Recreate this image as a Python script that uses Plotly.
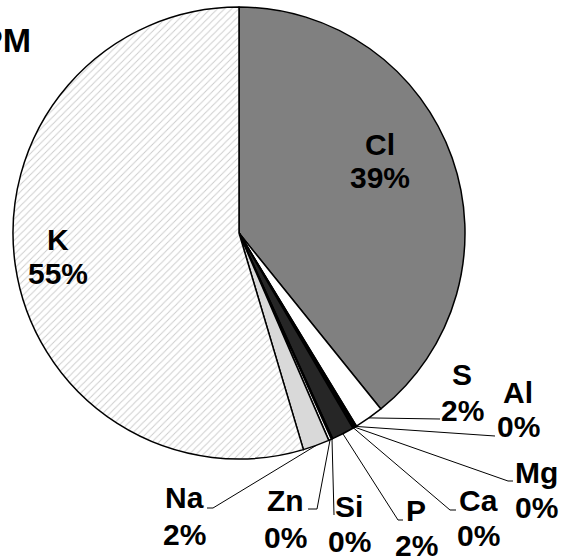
import math
import plotly.graph_objects as go

# ---- data ----
labels = ["Cl", "S", "Al", "Mg", "Ca", "P", "Si", "Zn", "Na", "K"]
values = [39.2, 2.1, 0.1, 0.1, 0.1, 1.6, 0.1, 0.2, 1.9, 54.6]
colors = ["#808080", "#ffffff", "#ffffff", "#ffffff", "#ffffff",
          "#262626", "#ffffff", "#ffffff", "#d9d9d9", "#ffffff"]
title_text = "PM"

W, H = 561, 560
CX, CY, R = 239, 233, 226


def px(x):
    return x / W


def py(y):
    return 1 - y / H


fig = go.Figure()
fig.add_trace(go.Pie(
    labels=labels,
    values=values,
    sort=False,
    direction="clockwise",
    rotation=0,
    textinfo="none",
    hoverinfo="skip",
    showlegend=False,
    domain=dict(x=[px(CX - R), px(CX + R)], y=[py(CY + R), py(CY - R)]),
    marker=dict(
        colors=colors,
        line=dict(color="black", width=1.5),
        pattern=dict(
            shape=["", "", "", "", "", "", "", "", "", "/"],
            fgcolor="#cccccc",
            bgcolor="#ffffff",
            size=5,
            solidity=0.18,
        ),
    ),
))

total = sum(values)
pcts = [f"{round(v / total * 100)}%" for v in values]

# label layout: (x center, name-line y, pct-line y) in pixels
label_pos = {
    "Cl": (380, 145, 177),
    "K": (58, 239, 273),
    "S": (462, 374, 411),
    "Al": (518, 392, 426),
    "Mg": (536, 472, 507),
    "Ca": (478, 500, 535),
    "P": (416, 510, 545),
    "Si": (349, 506, 541),
    "Zn": (285, 500, 537),
    "Na": (184, 497, 534),
}

# leader line layout: list of pixel points after the slice edge point
leaders = {
    "S": [(440, 419)],
    "Al": [(495, 436)],
    "Mg": [(508, 481), (513, 481)],
    "Ca": [(450, 510), (456, 510)],
    "P": [(398, 520), (403, 520)],
    "Si": [(334, 515)],
    "Zn": [(317, 509), (308, 509)],
    "Na": [(213, 508), (207, 508)],
}

annotations = []
shapes = []
FS = 30
cum = 0.0
for lab, v, pct in zip(labels, values, pcts):
    mid = (cum + v / 2) / total * 2 * math.pi
    cum += v
    x0, y1, y2 = label_pos[lab]
    for txt, yy in ((lab, y1), (pct, y2)):
        annotations.append(dict(
            x=px(x0), y=py(yy), xref="paper", yref="paper",
            text=f"<b>{txt}</b>", showarrow=False,
            xanchor="center", yanchor="middle",
            font=dict(family="Liberation Sans, Arial, sans-serif", size=FS, color="black"),
        ))
    if lab in leaders:
        ex = CX + R * math.sin(mid)
        ey = CY - R * math.cos(mid)
        pts = [(ex, ey)] + leaders[lab]
        path = "M " + " L ".join(f"{px(a)},{py(b)}" for a, b in pts)
        shapes.append(dict(type="path", path=path, xref="paper", yref="paper",
                           line=dict(color="black", width=1)))

annotations.append(dict(
    x=px(33), y=py(40), xref="paper", yref="paper",
    text=f"<b>{title_text}</b>", showarrow=False,
    xanchor="right", yanchor="middle",
    font=dict(family="Liberation Sans, Arial, sans-serif", size=34, color="black"),
))

fig.update_layout(
    width=W, height=H,
    margin=dict(l=0, r=0, t=0, b=0),
    paper_bgcolor="white", plot_bgcolor="white",
    annotations=annotations,
    shapes=shapes,
)

fig.write_html("out.html",
               config={"displayModeBar": False},
               post_script="document.body.style.margin='0';document.body.style.overflow='hidden';")
